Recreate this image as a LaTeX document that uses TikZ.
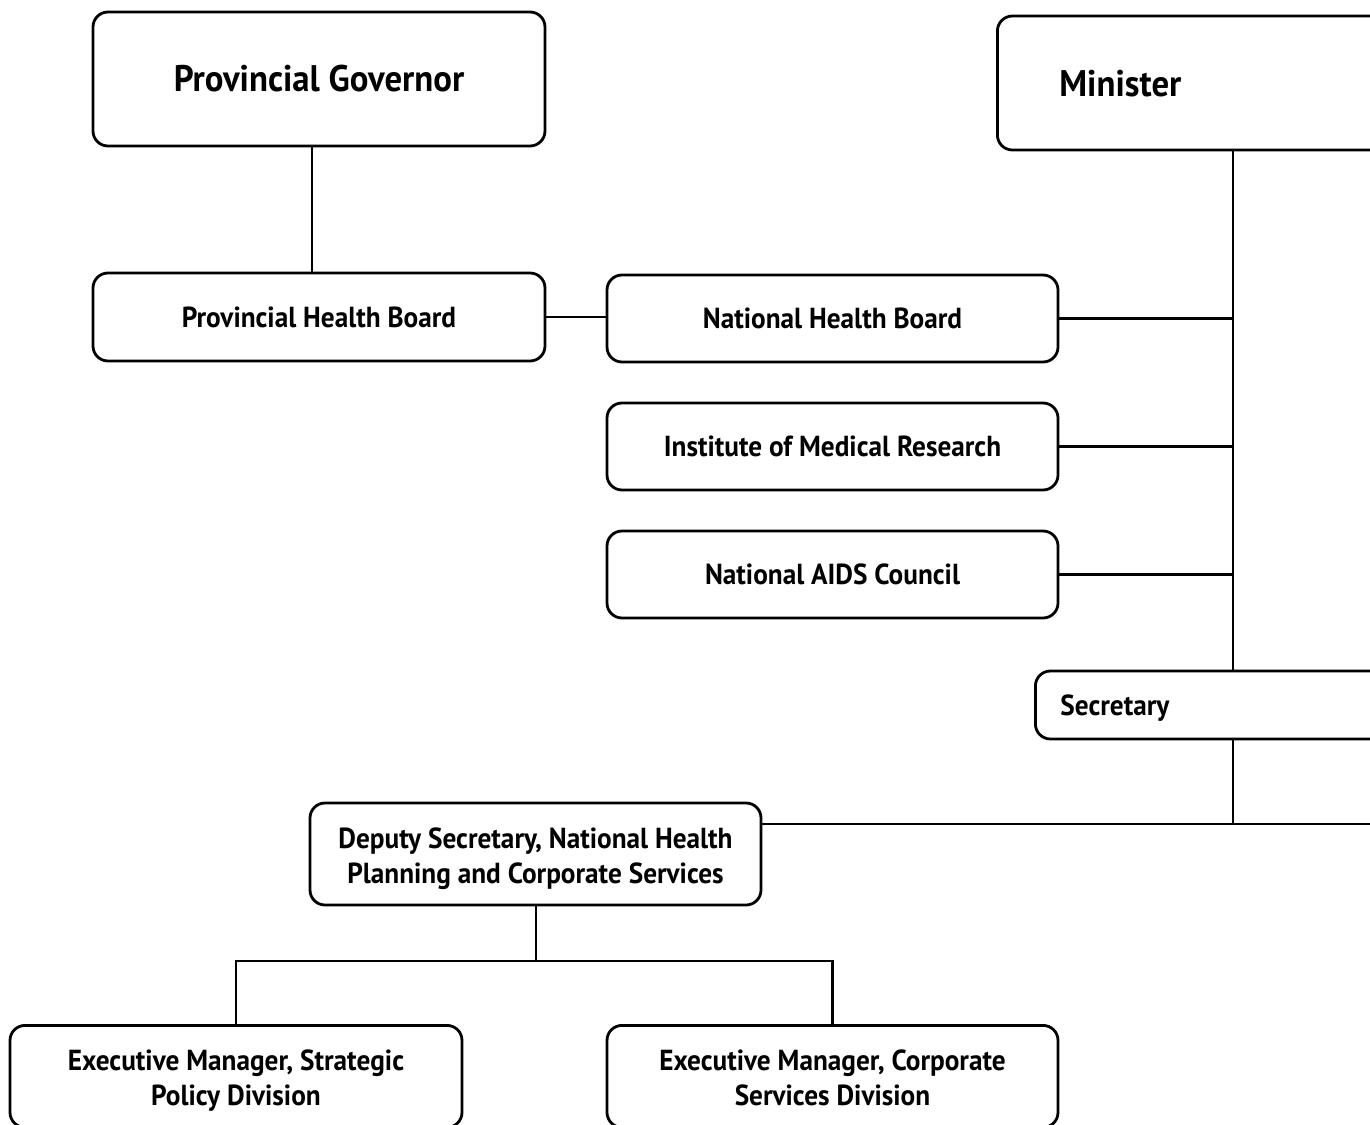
\documentclass[tikz,border=0pt]{standalone}
\usepackage{fontspec}
\setmainfont{PT Sans}[FakeStretch=0.94]
\newcommand\myst{\rule[-8pt]{0pt}{36pt}}
\newcommand\mytopst{\rule[-8pt]{0pt}{39pt}}
\newcommand\mybotst{\rule[-8pt]{0pt}{8pt}}
\newcommand\mybigst{\rule[-8pt]{0pt}{42pt}}
\begin{document}
\begin{tikzpicture}[x=1pt,y=-1pt,
  box/.style={draw, line width=2.8pt, rounded corners=15pt, align=center, inner sep=0pt,
    font=\bfseries\fontsize{29}{35}\selectfont},
  big/.style={font=\bfseries\fontsize{37}{40}\selectfont},
  conn/.style={line width=2.8pt}]
\useasboundingbox (0,0) rectangle (1370,1124);
\clip (0,0) rectangle (1370,1124);
% boxes
\node[box,big,minimum width=452pt,minimum height=134pt] (gov) at (319,79) {\mybigst Provincial Governor};
\node[box,big,anchor=west,text width=376pt,inner xsep=62pt,align=left,minimum height=134pt] (min) at (996,83) {\mybigst Minister};
\node[box,minimum width=452pt,minimum height=88pt] (phb) at (319,317) {\myst Provincial Health Board};
\node[box,minimum width=451pt,minimum height=87pt] (nhb) at (832.5,318.5) {\myst National Health Board};
\node[box,minimum width=451pt,minimum height=87pt] (imr) at (832.5,446.5) {\myst Institute of Medical Research};
\node[box,minimum width=451pt,minimum height=87pt] (nac) at (832.5,574.5) {\myst National AIDS Council};
\node[box,anchor=west,text width=450pt,inner xsep=25pt,align=left,minimum height=68pt] (sec) at (1034,705) {\myst Secretary};
\node[box,minimum width=451pt,minimum height=102pt] (dep) at (535.5,854) {\mytopst Deputy Secretary, National Health\\Planning and Corporate Services\mybotst};
\node[box,anchor=north,minimum width=452pt,minimum height=102pt] (exs) at (236,1024) {\mytopst Executive Manager, Strategic\\Policy Division\mybotst};
\node[box,anchor=north,minimum width=451pt,minimum height=102pt] (exc) at (832.5,1024) {\mytopst Executive Manager, Corporate\\Services Division\mybotst};
% connectors
\coordinate (spine) at (1233,0);
\draw[conn] (gov.south -| 312,0) -- (phb.north -| 312,0);
\draw[conn] (phb.east) -- (phb.east -| nhb.west);
\draw[conn] (min.south -| spine) -- (sec.north -| spine);
\draw[conn] (nhb.east) -- (nhb.east -| spine);
\draw[conn] (imr.east) -- (imr.east -| spine);
\draw[conn] (nac.east) -- (nac.east -| spine);
\coordinate (bus) at (1233,824);
\draw[conn] (sec.south -| spine) -- (bus);
\draw[conn] (dep.east |- bus) -- (1400,824);
\coordinate (bus2) at (536,961);
\draw[conn] (dep.south -| bus2) -- (bus2);
\draw[conn] (exs.north) |- (bus2) -| (exc.north);
\end{tikzpicture}
\end{document}
